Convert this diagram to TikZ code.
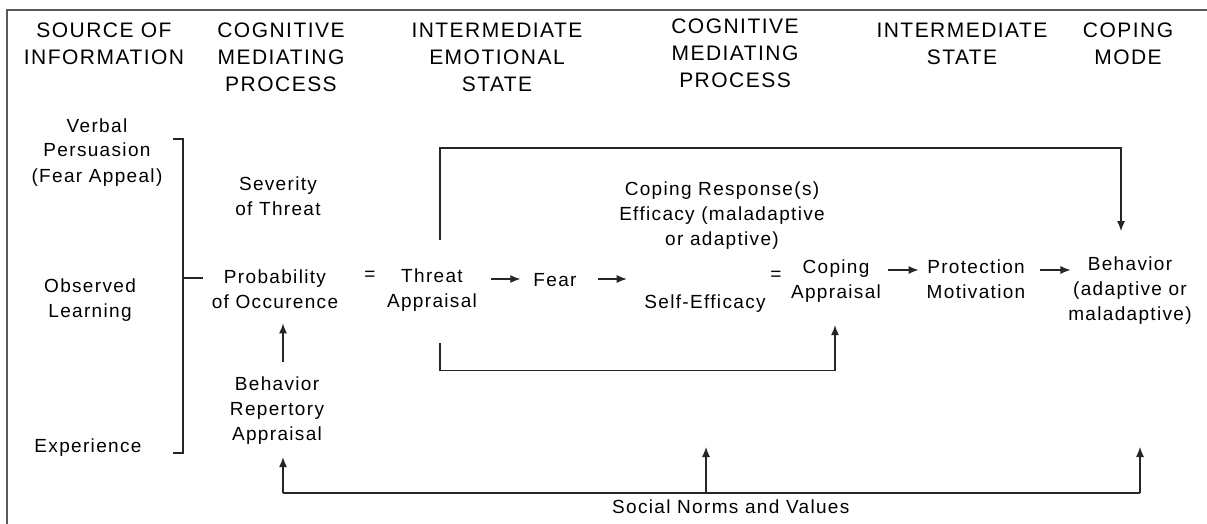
\documentclass[tikz,border=0pt]{standalone}
\usepackage{fontspec}
\setmainfont{Liberation Sans}
\newfontfamily\lsfont[LetterSpace=7]{Liberation Sans}
\usetikzlibrary{arrows.meta,calc}
\tikzset{
  hd/.style={font=\lsfont\fontsize{21}{27}\selectfont, align=center, inner sep=0pt, anchor=base},
  bd/.style={font=\lsfont\fontsize{19}{25}\selectfont, align=center, inner sep=0pt, anchor=base},
  ln/.style={line width=1.2pt, draw=black!85},
  arr/.style={ln, -{Latex[length=10pt,width=8pt]}},
  frm/.style={line width=1.8pt, draw=black!65}
}
\begin{document}
\begin{tikzpicture}[x=1pt,y=-1pt]
\useasboundingbox (0,0) rectangle (1207,524);
\fill[white] (0,0) rectangle (1207,524);
\draw[frm] (7,530) -- (7,10) -- (1212,10);

% headers (anchor = baseline of last line)
\node[hd] (src)  at (104,65) {SOURCE OF\\INFORMATION};
\node[hd] (cmp1) at (281,92) {COGNITIVE\\MEDIATING\\PROCESS};
\node[hd] (ies)  at (497,92) {INTERMEDIATE\\EMOTIONAL\\STATE};
\node[hd] (cmp2) at (735,88) {COGNITIVE\\MEDIATING\\PROCESS};
\node[hd] (ist)  at (962,65) {INTERMEDIATE\\STATE};
\node[hd] (cm)   at (1128,65) {COPING\\MODE};

% sources
\node[bd] (verbal)   at (97,182) {Verbal\\Persuasion\\(Fear Appeal)};
\node[bd] (observed) at (90,317) {Observed\\Learning};
\node[bd] (exper)    at (88,452) {Experience};

% bracket
\coordinate (bt) at (183,139);
\coordinate (bb) at (183,453);
\draw[ln] ($(bt)+(-10,0)$) -- (bt) -- (bb) -- ($(bb)+(-10,0)$);
\draw[ln] (183,278) -- (203,278);

% main nodes
\node[bd] (severity) at (278,215) {Severity\\of Threat};
\node[bd] (prob)     at (275,308) {Probability\\of Occurence};
\node[bd] (brep)     at (277,440) {Behavior\\Repertory\\Appraisal};
\node[bd] (eqa)      at (370,280) {=};
\node[bd] (threat)   at (432,307) {Threat\\Appraisal};
\node[bd] (fear)     at (555,286) {Fear};
\node[bd] (cre)      at (722,245) {Coping Response(s)\\Efficacy (maladaptive\\or adaptive)};
\node[bd] (selfeff)  at (705,308) {Self-Efficacy};
\node[bd] (eqb)      at (776,280) {=};
\node[bd] (coping)   at (836,298) {Coping\\Appraisal};
\node[bd] (protect)  at (976,298) {Protection\\Motivation};
\node[bd] (behav)    at (1130,320) {Behavior\\(adaptive or\\maladaptive)};
\node[bd, anchor=base west] (social) at (612,513) {Social Norms and Values};

% connectors
\draw[arr] ($(brep.north)+(6,-14)$) -- ($(prob.south)+(8,15)$);
\draw[arr] ($(threat.base east)+(14,-28)$) -- ($(fear.base west)+(-13,-7)$);
\draw[arr] ($(fear.base east)+(21,-7)$) -- ($(fear.base east)+(50,-7)$);
\draw[arr] ($(coping.base east)+(7,-28)$) -- ($(protect.base west)+(-8,-28)$);
\draw[arr] ($(protect.base east)+(15,-28)$) -- ($(protect.base east)+(45,-28)$);
\draw[arr] ($(threat.north)+(8,-28)$) -- ++(0,-92) -| ($(behav.north)+(-9,-25)$);
\draw[arr] ($(threat.south)+(8,32)$) -- ++(0,27) -| ($(coping.south)+(-1,23)$);

\coordinate (snl) at (283,493);
\coordinate (snr) at (1140,493);
\draw[ln] (snl) -- (snr);
\draw[arr] (snl) -- ($(brep.south)+(6,13)$);
\draw[arr] (706,493) -- (706,447);
\draw[arr] (snr) -- (1140,447);
\end{tikzpicture}
\end{document}
